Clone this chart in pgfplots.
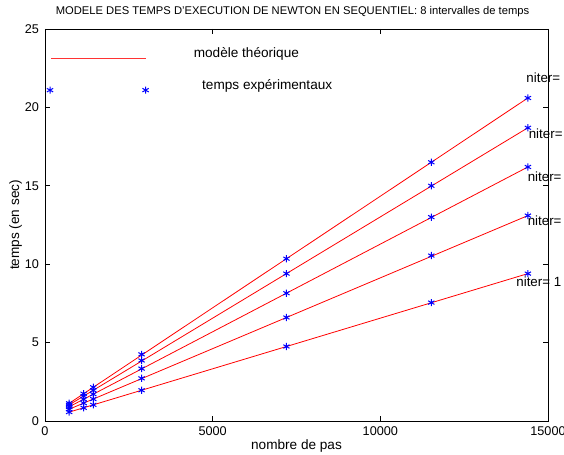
\documentclass[border=0pt]{standalone}
\usepackage{pgfplots}
\pgfplotsset{compat=1.18}
\usepackage{pgfplotstable}
\usepackage{fontspec}
\setmainfont{Liberation Sans}

% measured execution times (s) versus number of steps, one column per niter
\pgfplotstableread{
N     t1    t2     t3     t4     t5
720   0.57  0.75   0.90   1.03   1.13
1152  0.84  1.14   1.39   1.59   1.74
1440  1.03  1.40   1.71   1.96   2.15
2880  1.96  2.72   3.34   3.86   4.25
7200  4.75  6.60   8.15   9.40   10.35
11520 7.55  10.55  13.00  15.00  16.50
14400 9.40  13.10  16.20  18.70  20.60
}\exper

\begin{document}
\begin{tikzpicture}
\begin{axis}[
  scale only axis,
  width=377.25pt, height=294pt,
  xmin=0, xmax=15000, ymin=0, ymax=25,
  xtick={0,5000,10000,15000},
  ytick={0,5,10,15,20,25},
  scaled x ticks=false,
  /pgf/number format/1000 sep={},
  /pgf/number format/assume math mode=true,
  tick align=inside,
  major tick length=3.75pt,
  tick style={black, line width=0.5pt},
  axis line style={black, line width=0.6pt},
  ticklabel style={font=\fontsize{9.5}{11}\selectfont},
  xticklabel style={yshift=-1pt},
  yticklabel style={xshift=-1pt},
  clip=false,
  xlabel={nombre de pas},
  xlabel style={font=\fontsize{10.2}{12}\selectfont, anchor=center,
    at={([yshift=-18.75pt]axis description cs:0.5,0)}},
  ylabel={temps (en sec)},
  ylabel style={font=\fontsize{10.2}{12}\selectfont, anchor=center,
    at={([xshift=-22pt]axis description cs:0,0.5)}},
]
\coordinate (bl) at (rel axis cs:0,0);
\coordinate (tr) at (rel axis cs:1,1);
\coordinate (tc) at (rel axis cs:0.5,1);

% experimental points
\foreach \c in {t1,t2,t3,t4,t5}{
  \addplot[only marks, color=blue, mark=asterisk, mark size=2.7pt,
           mark options={line width=0.75pt}] table[x=N, y=\c] {\exper};
}

% theoretical model (straight lines)
\addplot[red, line width=0.6pt] coordinates {(720,0.565) (14400,9.40)};
\addplot[red, line width=0.6pt] coordinates {(720,0.75) (14400,13.10)};
\addplot[red, line width=0.6pt] coordinates {(720,0.905) (14400,16.20)};
\addplot[red, line width=0.6pt] coordinates {(720,1.03) (14400,18.70)};
\addplot[red, line width=0.6pt] coordinates {(720,1.125) (14400,20.60)};

% legend drawn inside the axes
\addplot[red!80, line width=0.6pt] coordinates {(180,23.15) (3000,23.15)};
\addplot[only marks, color=blue, mark=asterisk, mark size=2.7pt,
         mark options={line width=0.75pt}] coordinates {(150,21.1) (3000,21.1)};
\node[anchor=west, inner sep=0pt, font=\fontsize{10.2}{12}\selectfont] at (axis cs:4430,23.4) {modèle théorique};
\node[anchor=west, inner sep=0pt, font=\fontsize{10.2}{12}\selectfont] at (axis cs:4680,21.4) {temps expérimentaux};

% curve labels
\node[anchor=west, inner sep=0pt, font=\fontsize{10}{12}\selectfont] at (axis cs:14350,21.86) {niter= 5};
\node[anchor=west, inner sep=0pt, font=\fontsize{10}{12}\selectfont] at (axis cs:14420,18.35) {niter= 4};
\node[anchor=west, inner sep=0pt, font=\fontsize{10}{12}\selectfont] at (axis cs:14390,15.58) {niter= 3};
\node[anchor=west, inner sep=0pt, font=\fontsize{10}{12}\selectfont] at (axis cs:14390,12.76) {niter= 2};
\node[anchor=west, inner sep=0pt, font=\fontsize{10}{12}\selectfont] at (axis cs:14050,8.88) {niter= 1};
\end{axis}
% title
\node[font=\fontsize{8.4}{10}\selectfont, anchor=center] at ([xshift=-3pt,yshift=12.75pt]tc) {MODELE DES TEMPS D'EXECUTION DE NEWTON EN SEQUENTIEL: 8 intervalles de temps};
\pgfresetboundingbox
\path[use as bounding box] ([xshift=-33.75pt,yshift=-25.5pt]bl) rectangle ([xshift=12pt,yshift=21.75pt]tr);
\end{tikzpicture}
\end{document}
